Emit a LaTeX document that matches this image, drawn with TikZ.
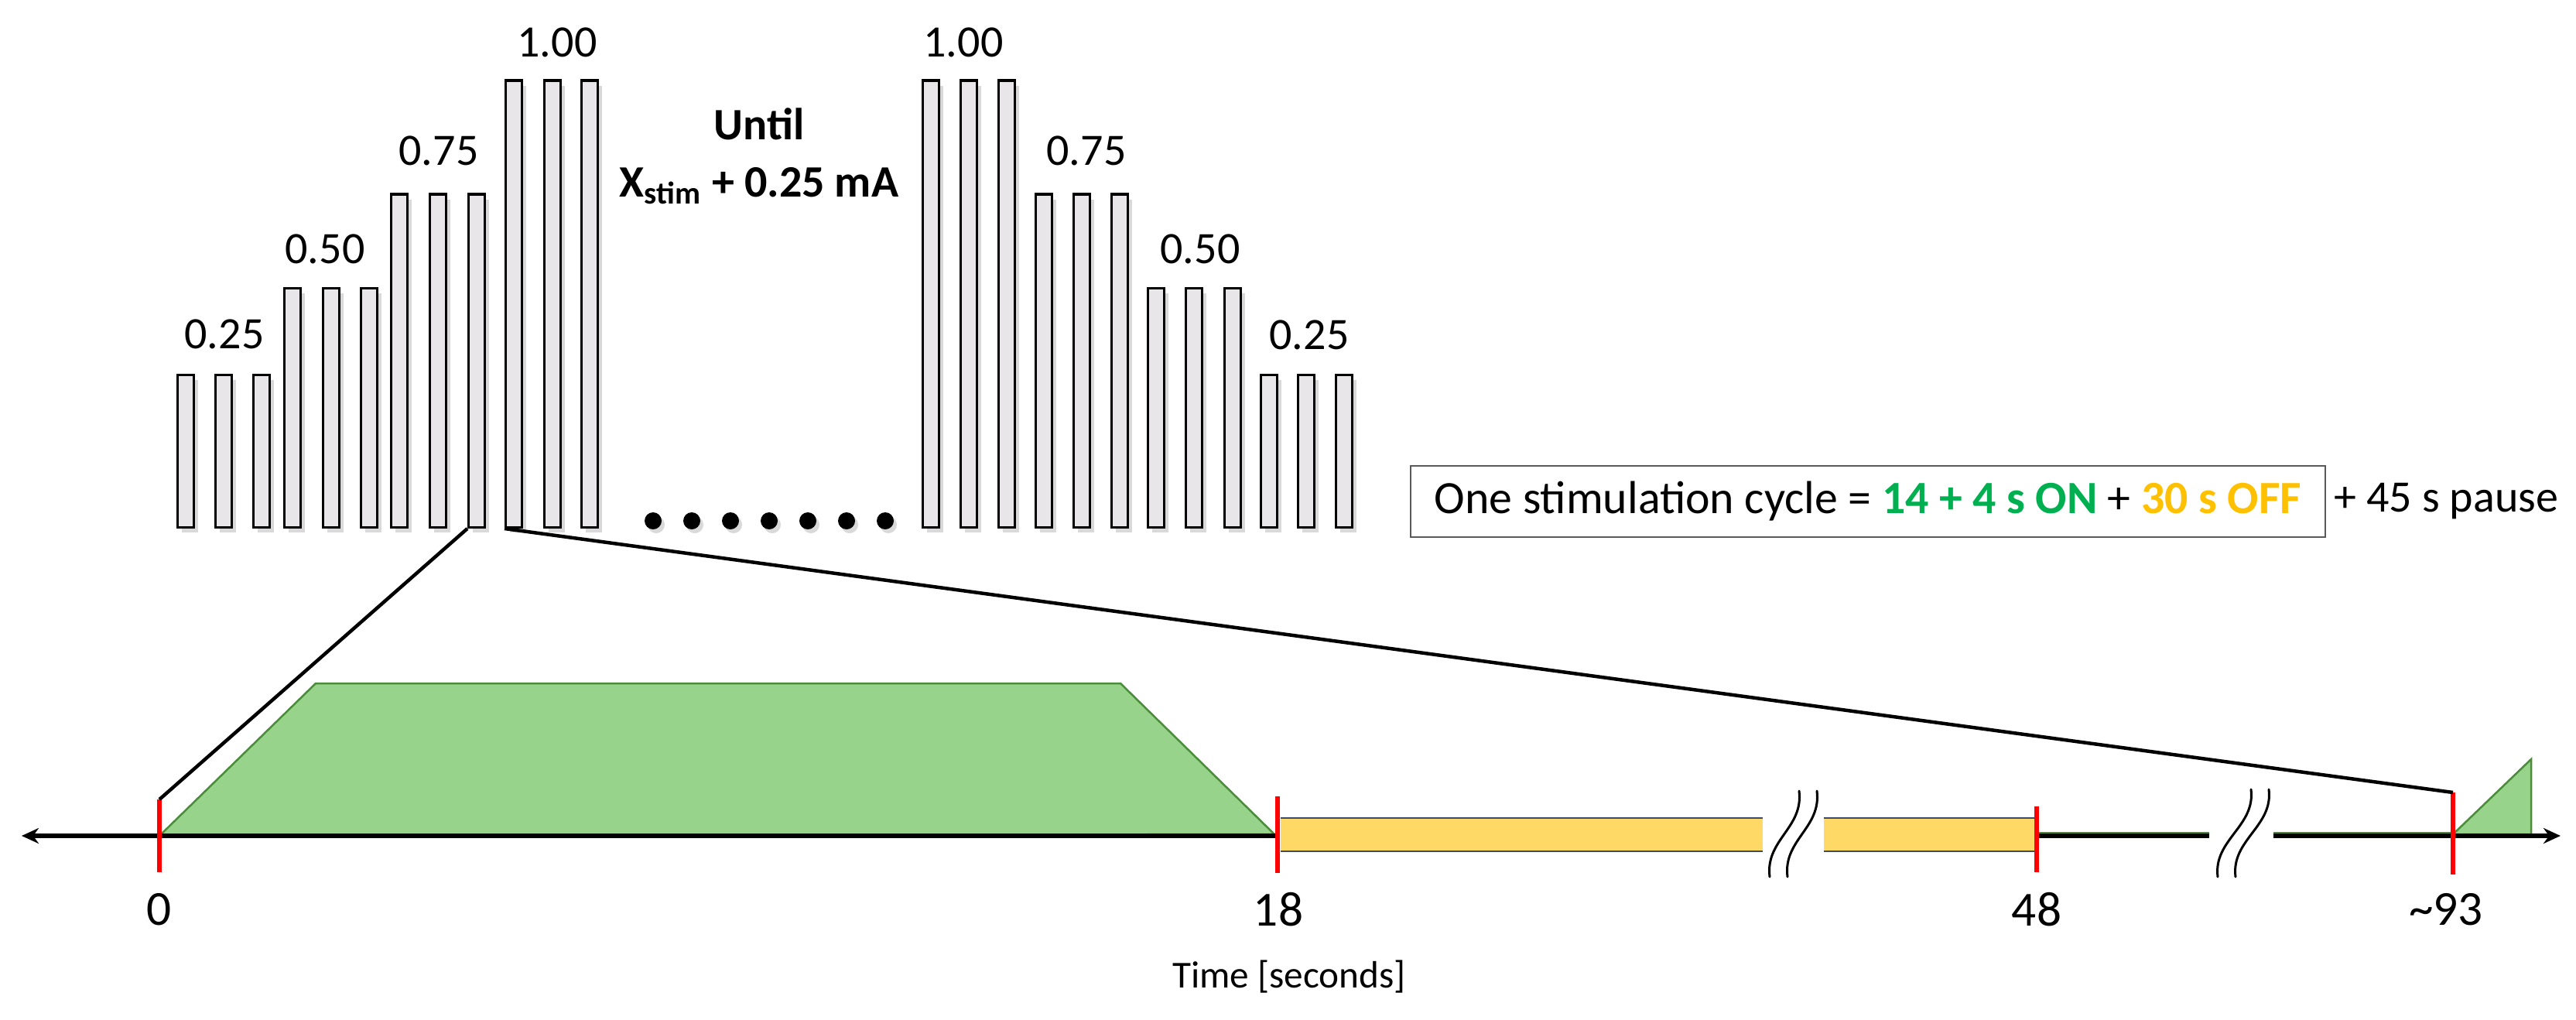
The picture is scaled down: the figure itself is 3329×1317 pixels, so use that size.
\documentclass[tikz,border=0pt]{standalone}
\usepackage{fontspec}
\setmainfont{Carlito}
\usetikzlibrary{arrows.meta,positioning,shadows}

\definecolor{barfill}{HTML}{E8E6E8}
\definecolor{onGreen}{HTML}{00B050}
\definecolor{offGold}{HTML}{FFC000}
\definecolor{rampfill}{HTML}{97D38B}
\definecolor{rampedge}{HTML}{4A8C3A}
\definecolor{offfill}{HTML}{FFD966}
\definecolor{offedge}{HTML}{3A4A70}

\begin{document}
\begin{tikzpicture}[x=0.01cm,y=-0.01cm,
  bar/.style={draw, line width=0.033cm, fill=barfill, anchor=south west, inner sep=0,
    minimum width=0.21cm,
    drop shadow={shadow xshift=0.05cm, shadow yshift=-0.07cm, opacity=0.3}},
  dot/.style={circle, fill=black, inner sep=0, minimum size=0.22cm,
    drop shadow={shadow xshift=0.04cm, shadow yshift=-0.05cm, opacity=0.3}},
  lbl/.style={font=\fontsize{16.5}{20}\selectfont},
  toplbl/.style={font=\fontsize{16.5}{20}\selectfont\bfseries},
  ticklbl/.style={font=\fontsize{18}{22}\selectfont},
  timelbl/.style={font=\fontsize{14}{17}\selectfont},
  cyclebox/.style={draw=gray!70!black, line width=0.02cm, minimum width=11.82cm,
    minimum height=0.91cm, inner sep=0, font=\fontsize{17}{20}\selectfont},
  tick/.style={draw=red, line width=0.055cm},
  zoomline/.style={line width=0.045cm},
  axis/.style={line width=0.06cm},
  ramp/.style={fill=rampfill, draw=rampedge, line width=0.025cm},
  brk/.style={line width=0.03cm, line cap=round},
]
%\draw[step=100,gray,very thin] (0,0) grid (3329,1317);
\useasboundingbox (0,0) rectangle (3329,1317);

% ramp up
\foreach \x/\h [count=\i] in {228/1.97, 277/1.97, 326/1.97, 366/3.09, 416/3.09, 465/3.09,
    504/4.3, 554/4.3, 604/4.3, 652/5.77, 702/5.77, 750/5.77}
  \node[bar, minimum height=\h cm] (lb\i) at (\x,683) {};

% ramp down
\foreach \x/\h [count=\i] in {1191/5.77, 1240/5.77, 1289/5.77, 1337/4.3, 1386/4.3, 1435/4.3,
    1482/3.09, 1531/3.09, 1581/3.09, 1628/1.97, 1676/1.97, 1725/1.97}
  \node[bar, minimum height=\h cm] (rb\i) at (\x,683) {};

\foreach \x [count=\i] in {844,894,...,1144}
  \node[dot] (d\i) at (\x,673) {};

\node[lbl] (la1) at (290,432) {0.25};
\node[lbl] (la2) at (420,322) {0.50};
\node[lbl] (la3) at (567,195) {0.75};
\node[lbl] (la4) at (720,55) {1.00};
\node[lbl] (ra4) at (1245,55) {1.00};
\node[lbl] (ra3) at (1404,195) {0.75};
\node[lbl] (ra2) at (1551,322) {0.50};
\node[lbl] (ra1) at (1692,433) {0.25};

\node[toplbl] (until) at (981,160) {Until};
\node[toplbl] (xstim) at (981,240) {X\textsubscript{stim} + 0.25 mA};

\node[cyclebox] (cycle) at (2414,648) {One stimulation cycle = \textbf{\color{onGreen}14 + 4 s ON} + \textbf{\color{offGold}30 s OFF}\hspace{0.3cm}};
\node[lbl, inner sep=0, right=0.09cm of cycle] (pause) {+ 45 s pause};

% timeline
\coordinate (t0top) at (206,1033);   \coordinate (t0bot) at (206,1127);
\coordinate (t18top) at (1651,1029); \coordinate (t18bot) at (1651,1128);
\coordinate (t48top) at (2632,1042); \coordinate (t48bot) at (2632,1127);
\coordinate (t93top) at (3170,1024); \coordinate (t93bot) at (3170,1130);

\draw[ramp] (206,1080) -- (408,883) -- (1448,883) -- (1647,1078) -- cycle;   % 14 + 4 s
\draw[ramp] (3170,1078) -- (3271,981) -- (3271,1078) -- cycle;

\fill[offfill] (1655,1057) rectangle (2278,1100);   % 30 s off
\fill[offfill] (2357,1057) rectangle (2632,1100);
\draw[offedge, line width=0.02cm] (1655,1057) -- (2278,1057) (1655,1100) -- (2278,1100);
\draw[offedge, line width=0.02cm] (2357,1057) -- (2632,1057) (2357,1100) -- (2632,1100);

\draw[axis, -{Stealth[length=0.22cm,width=0.2cm]}] (t18top |- 0,1080) -- (28,1080);
\draw[rampedge, line width=0.015cm] (2632,1076) -- (2855,1076) (2938,1076) -- (3170,1076);
\draw[axis] (t48top |- 0,1080) -- (2855,1080);
\draw[axis, -{Stealth[length=0.22cm,width=0.2cm]}] (2938,1080) -- (3309,1080);

\draw[brk] (2325,1022) .. controls (2331,1070) and (2281,1085) .. (2287,1133);
\draw[brk] (2348,1022) .. controls (2354,1070) and (2304,1085) .. (2310,1133);
\draw[brk] (2909,1020) .. controls (2915,1068) and (2860,1085) .. (2866,1133);
\draw[brk] (2932,1020) .. controls (2938,1068) and (2883,1085) .. (2889,1133);

\draw[tick] (t0top) -- (t0bot);
\draw[tick] (t18top) -- (t18bot);
\draw[tick] (t48top) -- (t48bot);
\draw[tick] (t93top) -- (t93bot);

\draw[zoomline] (lb9.south west) -- (t0top);
\draw[zoomline] (lb10.south west) -- (t93top);

\node[ticklbl] (n0) at (206,1175) {0};
\node[ticklbl] (n18) at (1652,1175) {18};
\node[ticklbl] (n48) at (2632,1175) {48};
\node[ticklbl] (n93) at (3161,1175) {\textasciitilde 93};
\node[timelbl] (tlabel) at (1666,1262) {Time [seconds]};
\end{tikzpicture}
\end{document}
